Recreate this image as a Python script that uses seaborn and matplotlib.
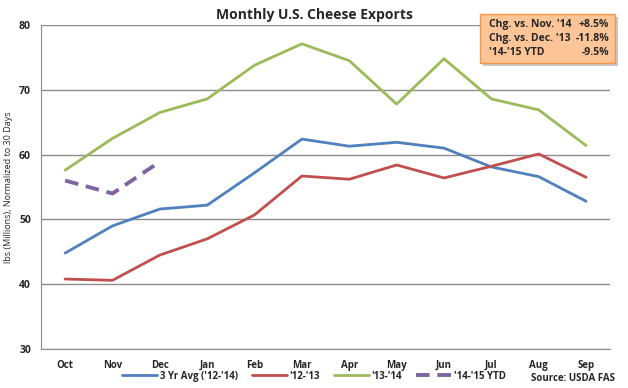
import numpy as np
import pandas as pd
import matplotlib.pyplot as plt
import seaborn as sns
from matplotlib.ticker import FixedLocator
from matplotlib.patches import FancyBboxPatch

months = ["Oct", "Nov", "Dec", "Jan", "Feb", "Mar", "Apr", "May", "Jun", "Jul", "Aug", "Sep"]
avg_12_14 = [44.8, 49.0, 51.6, 52.2, 57.2, 62.4, 61.3, 61.9, 61.0, 58.1, 56.6, 52.8]
y_12_13 = [40.8, 40.6, 44.5, 47.0, 50.7, 56.7, 56.2, 58.4, 56.4, 58.2, 60.1, 56.5]
y_13_14 = [57.6, 62.5, 66.5, 68.6, 73.8, 77.1, 74.5, 67.8, 74.8, 68.6, 66.9, 61.4]
y_14_15 = [56.0, 54.0, 58.9]

series_names = ["3 Yr Avg ('12-'14)", "'12-'13", "'13-'14", "'14-'15 YTD"]
colors = ["#4F81BD", "#C0504D", "#9BBB59", "#8064A2"]
box_lines = [("Chg. vs. Nov. '14", "+8.5%"),
             ("Chg. vs. Dec. '13", "-11.8%"),
             ("'14-'15 YTD", "-9.5%")]

rows = []
for name, vals in zip(series_names, [avg_12_14, y_12_13, y_13_14, y_14_15]):
    for i, v in enumerate(vals):
        rows.append({"month": i, "value": v, "series": name})
df = pd.DataFrame(rows)

sns.set_style("white")
plt.rcParams["font.family"] = ["Open Sans", "DejaVu Sans"]

fig = plt.figure(figsize=(6.28, 3.88), dpi=100)
ax = fig.add_axes([0.066, 0.1005, 0.905, 0.835])

dash = (3.5, 2.0)
sns.lineplot(data=df, x="month", y="value", hue="series", hue_order=series_names,
             palette=colors, style="series",
             dashes={series_names[0]: "", series_names[1]: "", series_names[2]: "",
                     series_names[3]: dash},
             linewidth=2.0, ax=ax, legend=False)
ax.lines[3].set_linewidth(2.8)

ax.set_xlim(-0.5, 11.5)
ax.set_ylim(30, 80)
ax.set_yticks([30, 40, 50, 60, 70, 80])
ax.yaxis.grid(True, color="#8c8c8c", linewidth=1)
ax.set_axisbelow(True)
ax.set_xticks(range(12))
ax.set_xticklabels(months, fontsize=7, fontweight="bold")
ax.tick_params(axis="x", which="major", length=0, pad=8)
ax.xaxis.set_minor_locator(FixedLocator(np.arange(-0.5, 12, 1)))
ax.tick_params(axis="x", which="minor", length=4, color="#8c8c8c", direction="out")
ax.tick_params(axis="y", labelsize=7.5, length=4, color="#8c8c8c", direction="out")
for t in ax.get_yticklabels():
    t.set_fontweight("bold")
ax.set_xlabel("")
ax.set_ylabel("lbs (Millions), Normalized to 30 Days", fontsize=6.5)
for s in ["top", "right"]:
    ax.spines[s].set_visible(False)
for s in ["left", "bottom"]:
    ax.spines[s].set_color("#8c8c8c")

fig.text(0.5, 0.962, "Monthly U.S. Cheese Exports", ha="center", va="center",
         fontsize=10, fontweight="bold")

# legend
handles = [plt.Line2D([], [], color=c, linewidth=2.8 if i == 3 else 2.0,
                      linestyle=(0, dash) if i == 3 else "-")
           for i, c in enumerate(colors)]
fig.legend(handles, series_names, loc="center", bbox_to_anchor=(0.5, 0.03),
           ncol=4, frameon=False, handlelength=3.6, columnspacing=1.4,
           handletextpad=0.3, prop={"weight": "bold", "size": 7})
fig.text(0.98, 0.025, "Source: USDA FAS", ha="right", va="center",
         fontsize=7, fontweight="bold")

# stats box
bx, by, bw, bh = 0.765, 0.838, 0.215, 0.125
shadow = FancyBboxPatch((bx + 0.004, by - 0.008), bw, bh, boxstyle="square,pad=0",
                        transform=fig.transFigure, facecolor="#c8c8c8", edgecolor="none",
                        zorder=5)
box = FancyBboxPatch((bx, by), bw, bh, boxstyle="square,pad=0",
                     transform=fig.transFigure, facecolor="#FCC597", edgecolor="#F79646",
                     linewidth=1, zorder=6)
fig.add_artist(shadow)
fig.add_artist(box)
for i, (lab, val) in enumerate(box_lines):
    yy = by + bh - 0.026 - i * 0.036
    fig.text(bx + 0.013, yy, lab, fontsize=7.5, fontweight="bold", va="center", zorder=7)
    fig.text(bx + bw - 0.01, yy, val, fontsize=7.5, fontweight="bold", va="center",
             ha="right", zorder=7)

fig.savefig("out.png", dpi=100)
